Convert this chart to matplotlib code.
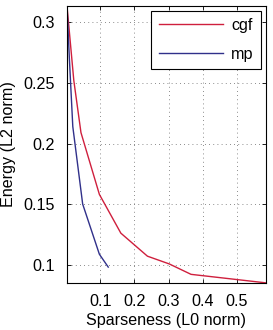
import matplotlib
matplotlib.use("Agg")
import matplotlib.pyplot as plt

plt.rcParams['font.family'] = ['Liberation Sans', 'DejaVu Sans']

cgf_x = [0.002, 0.022, 0.043, 0.097, 0.160, 0.238, 0.302, 0.366, 0.585]
cgf_y = [0.3135, 0.252, 0.209, 0.158, 0.126, 0.107, 0.1006, 0.092, 0.085]
mp_x = [0.002, 0.009, 0.019, 0.048, 0.097, 0.123]
mp_y = [0.3135, 0.270, 0.214, 0.150, 0.1086, 0.098]
x_ticks = [0.1, 0.2, 0.3, 0.4, 0.5]
y_ticks = [0.1, 0.15, 0.2, 0.25, 0.3]
x_tick_labels = ['0.1', '0.2', '0.3', '0.4', '0.5']
y_tick_labels = ['0.1', '0.15', '0.2', '0.25', '0.3']

fs = 11.6
fig = plt.figure(figsize=(2.73, 3.30), dpi=100)
ax = fig.add_axes([0.2454, 0.1433, 0.7279, 0.8385])
ax.plot(cgf_x, cgf_y, color='#cf1f3d', lw=1.0, label='cgf')
ax.plot(mp_x, mp_y, color='#30308a', lw=1.0, label='mp')
ax.set_xlim(0.002, 0.585)
ax.set_ylim(0.0851, 0.3135)
ax.set_xticks(x_ticks)
ax.set_xticklabels(x_tick_labels)
ax.set_yticks(y_ticks)
ax.set_yticklabels(y_tick_labels)
ax.tick_params(direction='in', length=3, width=0.6, top=True, right=True, labelsize=fs)
ax.tick_params(axis='y', pad=9)
ax.tick_params(axis='x', pad=8)
ax.grid(True, linestyle=(0, (1, 4)), color='#666666', lw=0.6)
for s in ax.spines.values():
    s.set_linewidth(0.8)
ax.set_xlabel('Sparseness (L0 norm)', fontsize=fs, labelpad=3)
ax.set_ylabel('Energy (L2 norm)', fontsize=fs, labelpad=5)
leg = ax.legend(loc='upper right', fontsize=fs, handlelength=4.0, fancybox=False,
                framealpha=1, edgecolor='black', borderpad=0.45, labelspacing=0.85,
                borderaxespad=0.3, handletextpad=0.5)
leg.get_frame().set_linewidth(0.8)
fig.savefig('out.png', dpi=100)
